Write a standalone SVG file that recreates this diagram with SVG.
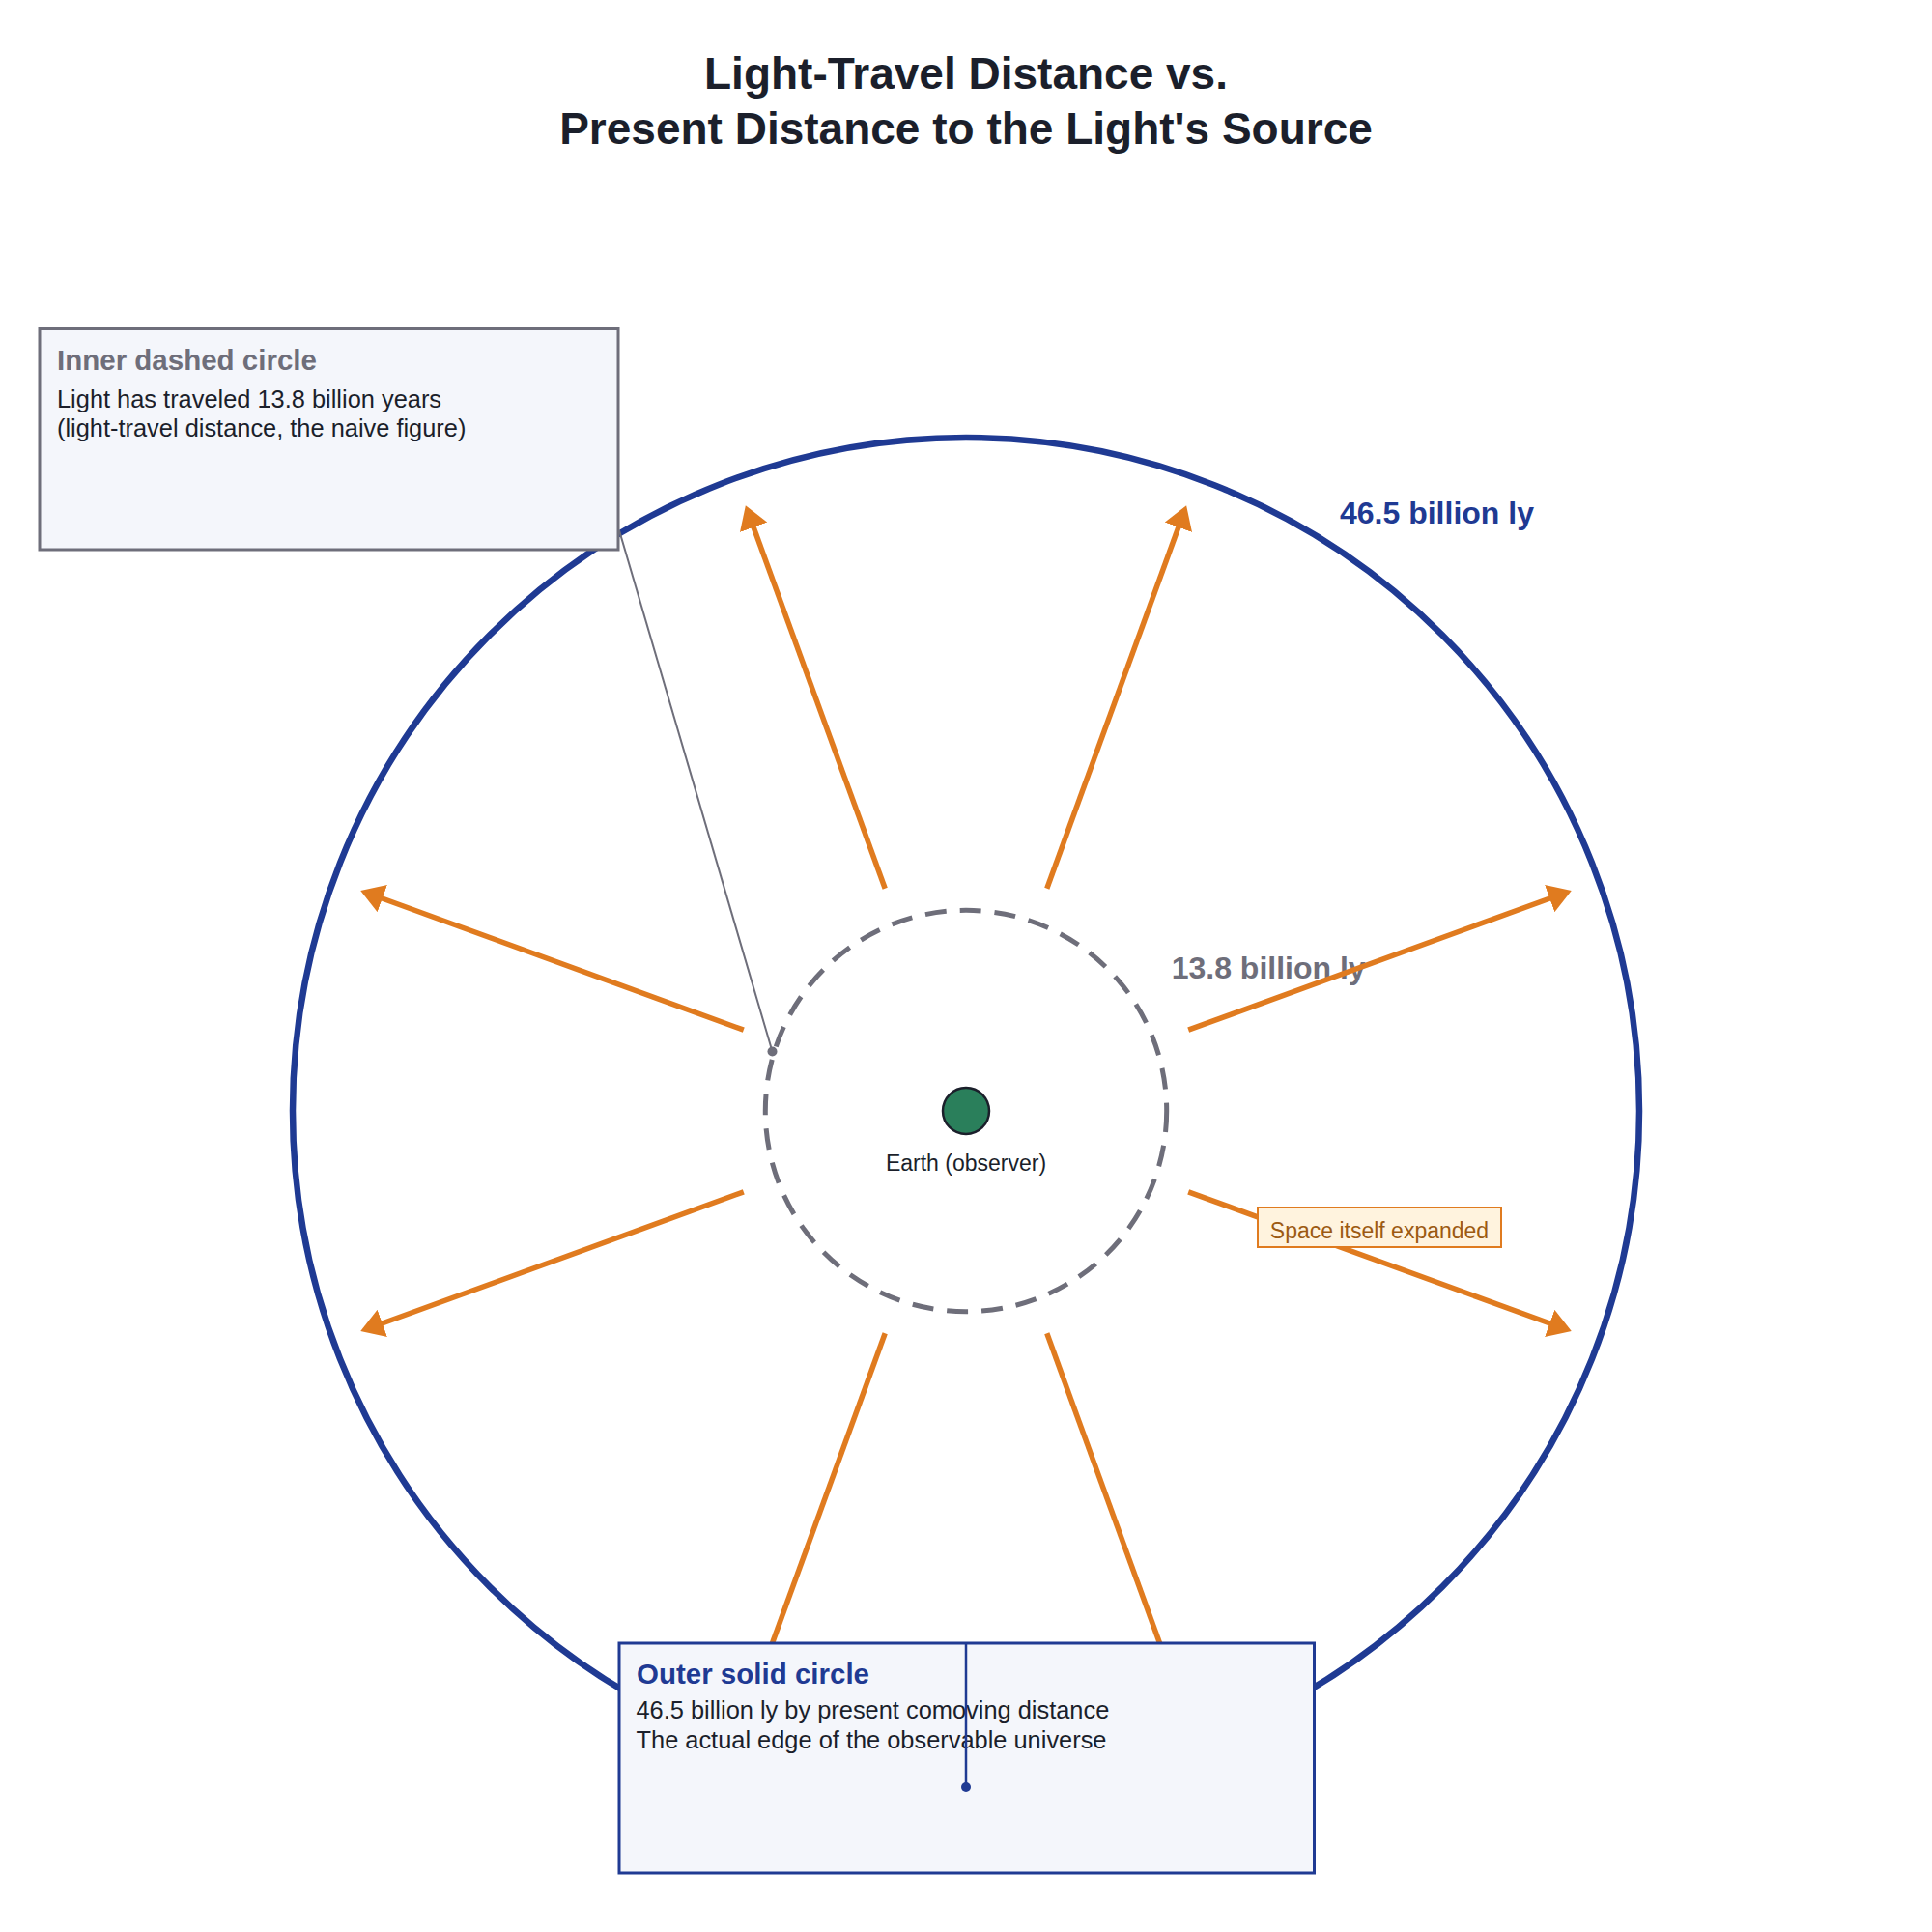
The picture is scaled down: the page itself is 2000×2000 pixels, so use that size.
<svg xmlns="http://www.w3.org/2000/svg" width="2000" height="2000" viewBox="0 0 2000 2000">
  <style>
    .title { font-family: "Liberation Sans", Arial, sans-serif; font-weight: bold; font-size: 46px; fill: #1B1F2B; text-anchor: middle; }
    .radlbl { font-family: "Liberation Sans", Arial, sans-serif; font-weight: bold; font-size: 32px; }
    .boxhead { font-family: "Liberation Sans", Arial, sans-serif; font-weight: bold; font-size: 29.5px; }
    .boxbody { font-family: "Liberation Sans", Arial, sans-serif; font-size: 25.4px; fill: #1B1F2B; }
    .small { font-family: "Liberation Sans", Arial, sans-serif; font-size: 23px; }
    .ray { stroke: #E07B1F; stroke-width: 5.5; fill: none; marker-end: url(#arrow); }
  </style>
  <defs>
    <marker id="arrow" markerUnits="userSpaceOnUse" markerWidth="24" markerHeight="30" refX="12" refY="15" orient="auto">
      <path d="M0,0 L24,15 L0,30 z" fill="#E07B1F"/>
    </marker>
  </defs>
  <rect width="2000" height="2000" fill="#FFFFFF"/>

  <g id="title">
    <text class="title" x="1000" y="92">Light-Travel Distance vs.</text>
    <text class="title" x="1000" y="148.5">Present Distance to the Light's Source</text>
  </g>

  <g id="outer-circle">
    <circle cx="1000" cy="1150" r="697" fill="none" stroke="#1F3A93" stroke-width="6.5"/>
    <text class="radlbl" x="1387" y="542" fill="#1F3A93">46.5 billion ly</text>
  </g>

  <g id="inner-circle">
    <circle cx="1000" cy="1150" r="207.7" fill="none" stroke="#6E6E7A" stroke-width="5" stroke-dasharray="22 14"/>
    <text class="radlbl" x="1212.7" y="1013.3" fill="#6E6E7A">13.8 billion ly</text>
  </g>

  <g id="connectors">
    <line class="ray" x1="1230.22" y1="1066.20" x2="1615.50" y2="925.98"/>
    <line class="ray" x1="1230.22" y1="1233.80" x2="1615.50" y2="1374.02"/>
    <line class="ray" x1="769.78" y1="1066.20" x2="384.50" y2="925.98"/>
    <line class="ray" x1="769.78" y1="1233.80" x2="384.50" y2="1374.02"/>
    <line class="ray" x1="1083.79" y1="919.78" x2="1224.02" y2="534.50"/>
    <line class="ray" x1="916.21" y1="919.78" x2="775.98" y2="534.50"/>
    <line class="ray" x1="1083.79" y1="1380.22" x2="1224.02" y2="1765.50"/>
    <line class="ray" x1="916.21" y1="1380.22" x2="775.98" y2="1765.50"/>
    <line x1="641" y1="549" x2="799.5" y2="1088.5" stroke="#6E6E7A" stroke-width="2"/>
    <circle cx="799.5" cy="1088.5" r="5" fill="#6E6E7A"/>
  </g>

  <g id="expansion-label">
    <rect x="1302" y="1250" width="252" height="41" fill="#FFF3DE" stroke="#E07B1F" stroke-width="2"/>
    <text class="small" x="1428" y="1281.5" fill="#9C5A12" text-anchor="middle">Space itself expanded</text>
  </g>

  <g id="earth">
    <circle cx="1000" cy="1150" r="24" fill="#2A7F5B" stroke="#1B1F2B" stroke-width="2.5"/>
    <text class="small" x="1000" y="1211.5" fill="#1B1F2B" text-anchor="middle">Earth (observer)</text>
  </g>

  <g id="inner-box">
    <rect x="41" y="340.5" width="599" height="228.5" fill="#F4F6FB" stroke="#6E6E7A" stroke-width="3"/>
    <text class="boxhead" x="59" y="383.3" fill="#6E6E7A">Inner dashed circle</text>
    <text class="boxbody" x="59" y="421.7">Light has traveled 13.8 billion years</text>
    <text class="boxbody" x="59" y="451.7">(light-travel distance, the naive figure)</text>
  </g>

  <g id="outer-box">
    <rect x="641" y="1701" width="719.5" height="238" fill="#F4F6FB" stroke="#1F3A93" stroke-width="3"/>
    <text class="boxhead" x="659" y="1743.3" fill="#1F3A93">Outer solid circle</text>
    <text class="boxbody" x="658.5" y="1778.5">46.5 billion ly by present comoving distance</text>
    <text class="boxbody" x="658.5" y="1810">The actual edge of the observable universe</text>
  </g>

  <g id="outer-leader">
    <line x1="1000" y1="1701" x2="1000" y2="1850" stroke="#1F3A93" stroke-width="2.5"/>
    <circle cx="1000" cy="1850" r="5" fill="#1F3A93"/>
  </g>
</svg>
